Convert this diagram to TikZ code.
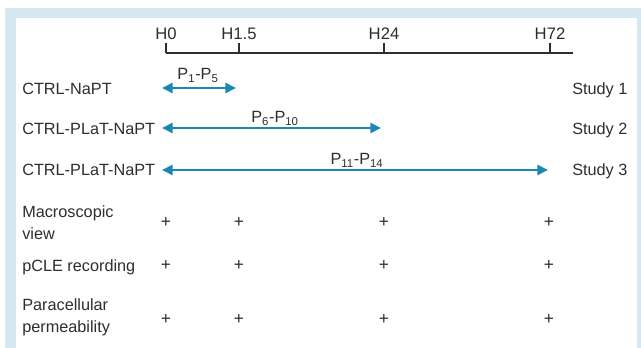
\documentclass[tikz,border=0pt]{standalone}
\usepackage{fontspec}
\setmainfont{Liberation Sans}
\usetikzlibrary{arrows.meta}
\definecolor{framebg}{HTML}{D7E7F0}
\definecolor{studyblue}{HTML}{1A88B5}
\definecolor{axisgray}{HTML}{2E2E2E}
\begin{document}
\begin{tikzpicture}[x=0.75pt,y=-0.75pt]
	\tikzstyle{rowlab}=[inner sep=0pt,align=left,text=axisgray,font=\fontsize{12.2}{16.5}\selectfont]
	\tikzstyle{hour}=[inner sep=0pt,text=axisgray,font=\fontsize{12.5}{14}\selectfont]
	\tikzstyle{period}=[inner sep=0pt,anchor=base,text=axisgray,font=\fontsize{12.2}{14}\selectfont]
	\tikzstyle{plus}=[inner sep=0pt,text=axisgray,font=\fontsize{13}{14}\selectfont]
	\tikzstyle{span}=[studyblue,line width=2pt,{Triangle[length=8pt,width=7.5pt]}-{Triangle[length=8pt,width=7.5pt]}]
	\tikzstyle{tick}=[axisgray,line width=1.1pt]
	\useasboundingbox (0,0) rectangle (641,348);
	% frame
	\fill[framebg] (5,8) rectangle (641,348);
	\fill[white] (16,18) rectangle (637,348);

	% time axis
	\coordinate (T0) at (166,53);
	\coordinate (T1) at (239,53);
	\coordinate (T2) at (384,53);
	\coordinate (T3) at (550,53);
	\coordinate (Tend) at (573,53);
	\coordinate (T0u) at (166,43);
	\coordinate (T1u) at (239,43);
	\coordinate (T2u) at (384,43);
	\coordinate (T3u) at (550,43);
	\node[hour] (H0) at (166,34) {H0};
	\node[hour] (H1) at (239,34) {H1.5};
	\node[hour] (H2) at (384,34) {H24};
	\node[hour] (H3) at (550,34) {H72};
	\draw[tick] (T0) -- (Tend);
	\draw[tick] (T0) -- (T0u);
	\draw[tick] (T1) -- (T1u);
	\draw[tick] (T2) -- (T2u);
	\draw[tick] (T3) -- (T3u);

	% studies
	\node[rowlab, anchor=base west] (R1) at (22,95) {CTRL-NaPT};
	\node[rowlab, anchor=base west] (R2) at (22,135) {CTRL-PLaT-NaPT};
	\node[rowlab, anchor=base west] (R3) at (22,176) {CTRL-PLaT-NaPT};
	\node[rowlab, anchor=base west] (S1) at (572,95) {Study 1};
	\node[rowlab, anchor=base west] (S2) at (572,135) {Study 2};
	\node[rowlab, anchor=base west] (S3) at (572,176) {Study 3};
	\coordinate (A1l) at (162,88);
	\coordinate (A1r) at (236,88);
	\coordinate (A2l) at (162,128);
	\coordinate (A2r) at (381,128);
	\coordinate (A3l) at (162,170);
	\coordinate (A3r) at (548,170);
	\draw[span] (A1l) -- (A1r);
	\draw[span] (A2l) -- (A2r);
	\draw[span] (A3l) -- (A3r);
	\node[period] (P1) at (198,80) {P\textsubscript{1}-P\textsubscript{5}};
	\node[period] (P2) at (275,123) {P\textsubscript{6}-P\textsubscript{10}};
	\node[period] (P3) at (357,165) {P\textsubscript{11}-P\textsubscript{14}};

	% measurements
	\node[rowlab, anchor=west] (M1) at (22,223) {Macroscopic\\view};
	\node[rowlab, anchor=base west] (M2) at (22,272) {pCLE recording};
	\node[rowlab, anchor=west] (M3) at (22,317) {Paracellular\\permeability};
	\node[plus] (M1a) at (166,222) {+};
	\node[plus] (M1b) at (239,222) {+};
	\node[plus] (M1c) at (384,222) {+};
	\node[plus] (M1d) at (549,222) {+};
	\node[plus] (M2a) at (166,265) {+};
	\node[plus] (M2b) at (239,265) {+};
	\node[plus] (M2c) at (384,265) {+};
	\node[plus] (M2d) at (549,265) {+};
	\node[plus] (M3a) at (166,319) {+};
	\node[plus] (M3b) at (239,319) {+};
	\node[plus] (M3c) at (384,319) {+};
	\node[plus] (M3d) at (549,319) {+};
\end{tikzpicture}
\end{document}
